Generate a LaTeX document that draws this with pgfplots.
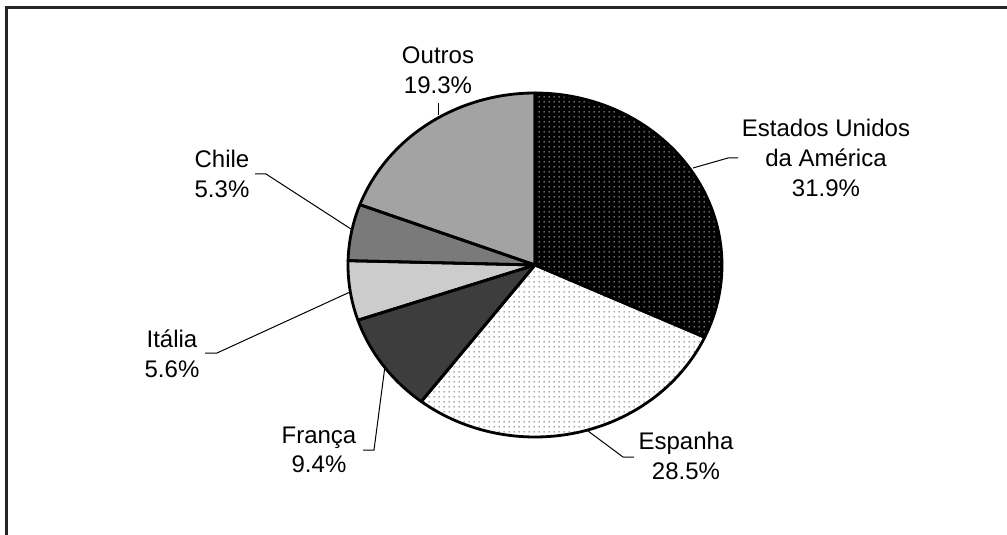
\documentclass[border=0pt]{standalone}
\usepackage{pgfplots}
\pgfplotsset{compat=1.18}
\usepackage{fontspec}
\setmainfont{Liberation Sans}
\usetikzlibrary{patterns.meta}

\tikzdeclarepattern{
  name=fdots,
  type=uncolored,
  bounding box={(0,0) and (2.4pt,2.4pt)},
  tile size={(2.4pt,2.4pt)},
  code={\pgfpathrectangle{\pgfpoint{0.9pt}{0.9pt}}{\pgfpoint{0.45pt}{0.45pt}}\pgfusepath{fill}}
}

% shares in percent, clockwise from the top
\pgfmathsetmacro\aA{90}
\pgfmathsetmacro\aB{\aA-3.6*31.9} % Estados Unidos da America
\pgfmathsetmacro\aC{\aB-3.6*28.5} % Espanha
\pgfmathsetmacro\aD{\aC-3.6*9.4}  % Franca
\pgfmathsetmacro\aE{\aD-3.6*5.6}  % Italia
\pgfmathsetmacro\aF{\aE-3.6*5.3}  % Chile
\pgfmathsetmacro\aG{\aF-3.6*19.3} % Outros

\newcommand{\slice}[3]{%
  \path[#3] (axis cs:535,265) -- ++(#1:93.5pt and 86pt)
    arc[start angle=#1, end angle=#2, x radius=93.5pt, y radius=86pt] -- cycle;}

\begin{document}
\begin{tikzpicture}
\begin{axis}[
    scale only axis,
    width=503.5pt, height=267.5pt,
    xmin=0, xmax=1007, ymin=0, ymax=535,
    y dir=reverse,
    hide axis,
    clip=false,
]
% frame
\draw[line width=1.2pt, black!85] (axis cs:6.5,545) -- (axis cs:6.5,7.5) -- (axis cs:1020,7.5);

% slices
\slice{\aA}{\aB}{fill=black, postaction={pattern=fdots, pattern color=white}}
\slice{\aB}{\aC}{fill=white, postaction={pattern=fdots, pattern color=black!80}}
\slice{\aC}{\aD}{fill=black!76}
\slice{\aD}{\aE}{fill=black!20}
\slice{\aE}{\aF}{fill=black!52}
\slice{\aF}{\aG}{fill=black!36}
% outlines
\tikzset{edge/.style={draw=black, line width=1.4pt, line join=round}}
\slice{\aA}{\aB}{edge}
\slice{\aB}{\aC}{edge}
\slice{\aC}{\aD}{edge}
\slice{\aD}{\aE}{edge}
\slice{\aE}{\aF}{edge}
\slice{\aF}{\aG}{edge}

% leader lines
\draw[line width=0.5pt] (axis cs:438,115) -- (axis cs:438,103);
\draw[line width=0.5pt] (axis cs:693,168) -- (axis cs:728,158) -- (axis cs:738,158);
\draw[line width=0.5pt] (axis cs:588,431) -- (axis cs:623,457) -- (axis cs:634,457);
\draw[line width=0.5pt] (axis cs:385,366) -- (axis cs:374,450) -- (axis cs:363,450);
\draw[line width=0.5pt] (axis cs:350,292) -- (axis cs:217,353) -- (axis cs:205,353);
\draw[line width=0.5pt] (axis cs:351,229) -- (axis cs:266,174) -- (axis cs:255,174);

% labels
\tikzset{lbl/.style={align=center, inner sep=0pt, font=\fontsize{12}{14.8}\selectfont}}
\node[lbl] at (axis cs:438,70) {Outros\\19.3\%};
\node[lbl] at (axis cs:826,158) {Estados Unidos\\da América\\31.9\%};
\node[lbl] at (axis cs:686,456) {Espanha\\28.5\%};
\node[lbl] at (axis cs:319,450) {França\\9.4\%};
\node[lbl] at (axis cs:172,354) {Itália\\5.6\%};
\node[lbl] at (axis cs:222,174) {Chile\\5.3\%};
\end{axis}
\pgfresetboundingbox
\useasboundingbox (0,0) rectangle (503.5pt,267.5pt);
\end{tikzpicture}
\end{document}
